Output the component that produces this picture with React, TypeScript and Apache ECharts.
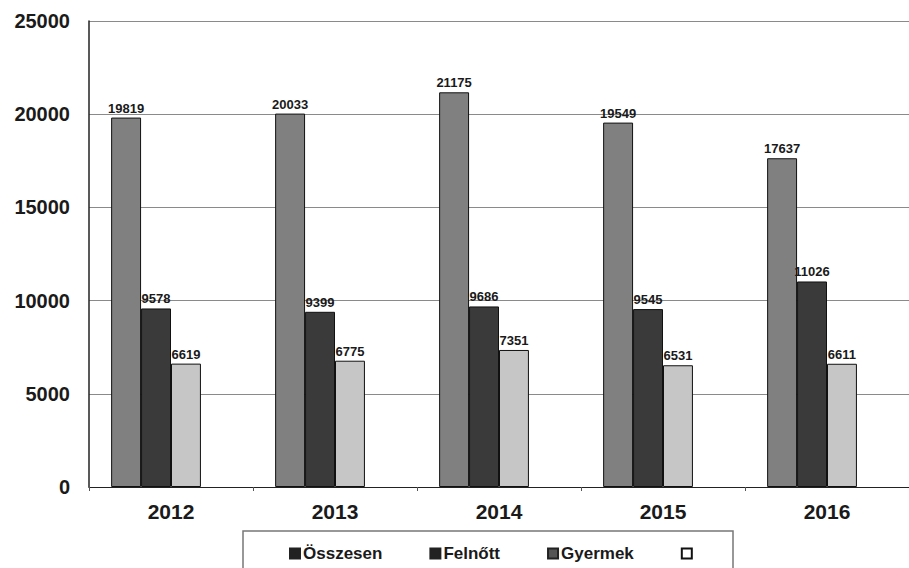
import React, { useEffect, useRef } from "react";
import * as echarts from "echarts";

const years = ["2012", "2013", "2014", "2015", "2016"];
const osszesen = [19819, 20033, 21175, 19549, 17637];
const felnott = [9578, 9399, 9686, 9545, 11026];
const gyermek = [6619, 6775, 7351, 6531, 6611];
const empty: (number | null)[] = [null, null, null, null, null];
const yTicks = { min: 0, max: 25000, interval: 5000 };

const FONT = "Liberation Sans, Arial, sans-serif";

export default function App() {
  const ref = useRef<HTMLDivElement>(null);
  useEffect(() => {
    const chart = echarts.init(ref.current!, undefined, { renderer: "svg" });
    const label = {
      show: true,
      position: "top" as const,
      distance: 3,
      fontFamily: FONT,
      fontWeight: "bold" as const,
      fontSize: 13,
      color: "#1a1a1a",
    };
    const mk = (name: string, data: (number | null)[], color: string) => ({
      name,
      type: "bar" as const,
      data,
      barGap: "0%",
      barCategoryGap: "27%",
      itemStyle: { color, borderColor: "#111", borderWidth: 1 },
      label,
    });
    chart.setOption({
      animation: false,
      backgroundColor: "#fff",
      grid: { left: 89, right: 0, top: 21, bottom: 81 },
      xAxis: {
        type: "category",
        data: years,
        axisLine: { lineStyle: { color: "#222", width: 1 } },
        axisTick: { show: true, length: 4, lineStyle: { color: "#555" } },
        axisLabel: {
          fontFamily: FONT,
          fontWeight: "bold",
          fontSize: 21,
          color: "#1a1a1a",
          margin: 14,
        },
      },
      yAxis: {
        type: "value",
        min: yTicks.min,
        max: yTicks.max,
        interval: yTicks.interval,
        axisLine: { show: true, lineStyle: { color: "#222", width: 1.5 } },
        axisTick: { show: false },
        splitLine: { lineStyle: { color: "#8a8a8a", width: 1.2 } },
        axisLabel: {
          fontFamily: FONT,
          fontWeight: "bold",
          fontSize: 20,
          color: "#1a1a1a",
          margin: 19,
          formatter: (v: number) => String(v),
        },
      },
      legend: {
        left: 284,
        top: 540,
        icon: "rect",
        itemWidth: 10,
        itemHeight: 10,
        itemGap: 47,
        textStyle: {
          fontFamily: FONT,
          fontWeight: "bold",
          fontSize: 17,
          color: "#1a1a1a",
          padding: [0, 0, 0, -2],
        },
        data: [
          { name: "Összesen", itemStyle: { color: "#222", borderColor: "#222" } },
          { name: "Felnőtt", itemStyle: { color: "#222", borderColor: "#222" } },
          { name: "Gyermek", itemStyle: { color: "#555", borderColor: "#222" } },
          { name: " ", itemStyle: { color: "#fff", borderColor: "#111", borderWidth: 2 } },
        ],
      },
      graphic: [
        {
          type: "rect",
          shape: { x: 243, y: 531, width: 490, height: 45 },
          style: { fill: "none", stroke: "#777", lineWidth: 1.5 },
          z: -1,
        },
      ],
      series: [
        mk("Összesen", osszesen, "#808080"),
        mk("Felnőtt", felnott, "#3a3a3a"),
        mk("Gyermek", gyermek, "#c6c6c6"),
        mk(" ", empty, "#ffffff"),
      ],
    });
    return () => chart.dispose();
  }, []);
  return (
    <div
      ref={ref}
      style={{ position: "absolute", left: 0, top: 0, width: 909, height: 568 }}
    />
  );
}
